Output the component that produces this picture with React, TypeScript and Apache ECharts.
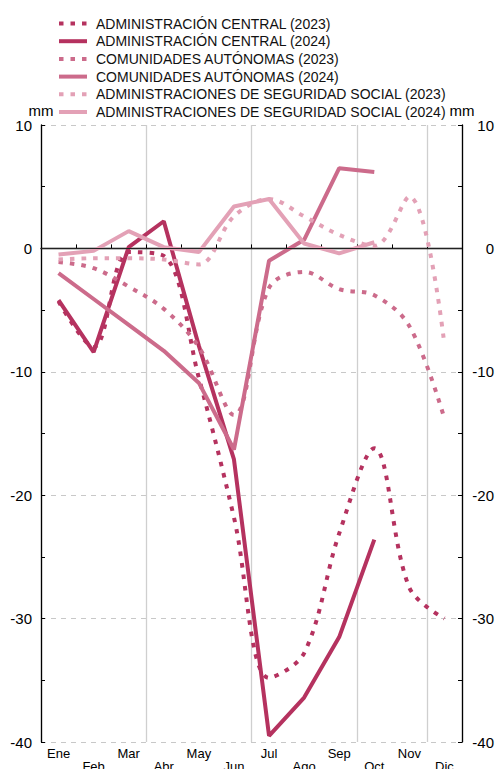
import React, { useEffect, useRef } from 'react';
import * as echarts from 'echarts';

const months = ['Ene', 'Feb', 'Mar', 'Abr', 'May', 'Jun', 'Jul', 'Ago', 'Sep', 'Oct', 'Nov', 'Dic'];
const ac2023 = [-4.3, -8.0, -0.3, -0.6, -10.5, -21.8, -34.8, -32.8, -23.1, -16.2, -27.5, -30.0];
const ac2024 = [-4.2, -8.4, 0.1, 2.2, -7.9, -17.1, -39.5, -36.4, -31.5, -23.6];
const ccaa2023 = [-1.1, -1.6, -3.1, -4.9, -8.0, -13.5, -3.2, -1.9, -3.3, -3.8, -6.3, -13.8];
const ccaa2024 = [-2.0, -4.1, -6.2, -8.3, -10.9, -16.3, -1.0, 0.7, 6.5, 6.2];
const ss2023 = [-0.9, -0.8, -0.8, -0.9, -1.3, 2.6, 4.0, 2.6, 1.1, 0.2, 4.2, -7.8];
const ss2024 = [-0.5, -0.2, 1.4, 0.1, -0.3, 3.4, 4.0, 0.4, -0.4, 0.5];

const names = [
  'ADMINISTRACIÓN CENTRAL (2023)',
  'ADMINISTRACIÓN CENTRAL (2024)',
  'COMUNIDADES AUTÓNOMAS (2023)',
  'COMUNIDADES AUTÓNOMAS (2024)',
  'ADMINISTRACIONES DE SEGURIDAD SOCIAL (2023)',
  'ADMINISTRACIONES DE SEGURIDAD SOCIAL (2024)',
];

const C_AC = '#b5325f';
const C_CA = '#cc6b8b';
const C_SS = '#e3a1b6';

const FONT = '"Liberation Sans", Arial, Helvetica, sans-serif';

function lineSeries(name: string, data: number[], color: string, dotted: boolean) {
  return {
    name,
    type: 'line',
    data,
    symbol: 'none',
    smooth: dotted ? 0.35 : false,
    lineStyle: {
      color,
      width: 4,
      type: dotted ? [4.5, 7] : 'solid',
      cap: 'butt',
    },
    itemStyle: { color },
    z: 3,
  };
}

function yAxisCfg(pos: 'left' | 'right') {
  return {
    type: 'value',
    position: pos,
    min: -40,
    max: 10,
    interval: 10,
    name: 'mm',
    nameLocation: 'end',
    nameGap: 5,
    nameTextStyle: { color: '#000', fontSize: 15, fontFamily: FONT, align: 'center' },
    axisLine: { show: true, lineStyle: { color: '#000', width: 1.3 } },
    axisTick: { show: true, inside: true, length: 4, lineStyle: { color: '#000', width: 1 } },
    minorTick: { show: true, splitNumber: 2, length: 4, lineStyle: { color: '#000', width: 1 } },
    axisLabel: {
      color: '#000',
      fontSize: 15,
      fontFamily: FONT,
      margin: pos === 'left' ? 9 : 32,
      align: 'right',
    },
    splitLine: pos === 'left'
      ? { show: true, lineStyle: { color: '#c8c8c8', width: 1, type: [5, 5] } }
      : { show: false },
  };
}

export default function App() {
  const ref = useRef<HTMLDivElement>(null);
  useEffect(() => {
    if (!ref.current) return;
    const chart = echarts.init(ref.current, undefined, { renderer: 'svg' });
    chart.setOption({
      animation: false,
      backgroundColor: '#fff',
      textStyle: { fontFamily: FONT },
      legend: {
        orient: 'vertical',
        left: 52,
        top: 11.5,
        itemWidth: 28,
        itemHeight: 14,
        itemGap: 3.7,
        data: names,
        itemStyle: { opacity: 0 },
        lineStyle: { width: 4 },
        textStyle: {
          color: '#111',
          fontSize: 14,
          lineHeight: 14,
          fontFamily: FONT,
          padding: [0, 0, 0, 4],
        },
      },
      grid: { left: 41, right: 35, top: 125, bottom: 27, outerBoundsMode: 'none', containLabel: false },
      xAxis: {
        type: 'category',
        data: months,
        boundaryGap: true,
        axisLine: { show: true, lineStyle: { color: '#000', width: 1.3 } },
        axisTick: { show: true, inside: true, length: 4, interval: 0, lineStyle: { color: '#000', width: 1 } },
        axisLabel: {
          interval: 0,
          color: '#000',
          fontSize: 13,
          lineHeight: 13,
          fontFamily: FONT,
          margin: 5,
          formatter: (v: string, i: number) => (i % 2 === 1 ? '\n' + v : v),
        },
        splitLine: { show: true, interval: 2, lineStyle: { color: '#cfcfcf', width: 1.3 } },
      },
      yAxis: [yAxisCfg('left'), yAxisCfg('right')],
      series: [
        {
          type: 'line',
          data: [],
          silent: true,
          z: 2,
          markLine: {
            silent: true,
            symbol: ['none', 'none'],
            label: { show: false },
            lineStyle: { color: '#222', width: 1.2, type: 'solid' },
            data: [{ yAxis: 0 }],
          },
        },
        lineSeries(names[0], ac2023, C_AC, true),
        lineSeries(names[1], ac2024, C_AC, false),
        lineSeries(names[2], ccaa2023, C_CA, true),
        lineSeries(names[3], ccaa2024, C_CA, false),
        lineSeries(names[4], ss2023, C_SS, true),
        lineSeries(names[5], ss2024, C_SS, false),
      ],
    });
    return () => chart.dispose();
  }, []);
  return (
    <div
      ref={ref}
      style={{ position: 'fixed', left: 0, top: 0, width: 497, height: 769, background: '#fff' }}
    />
  );
}
